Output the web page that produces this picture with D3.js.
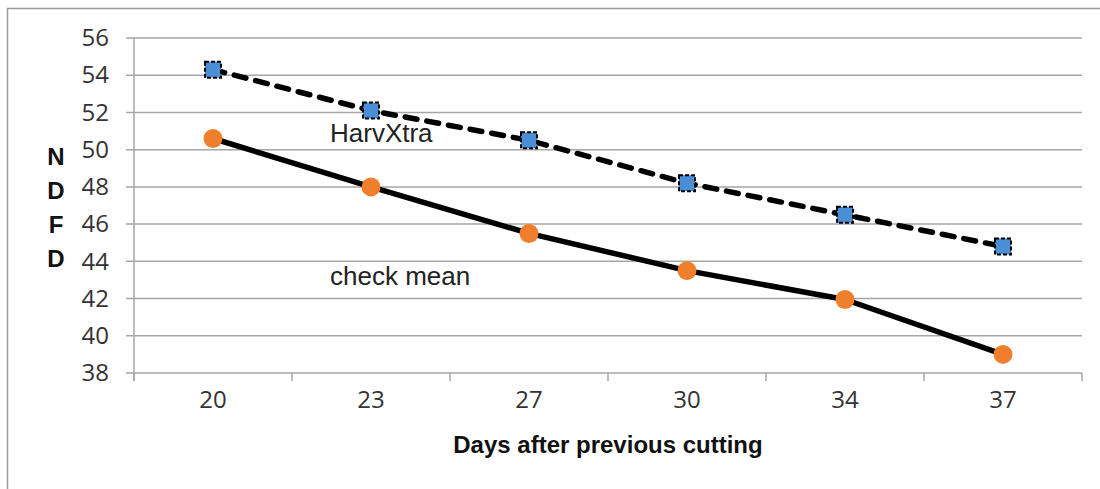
<!DOCTYPE html>
<html><head><meta charset="utf-8">
<script src="https://cdn.jsdelivr.net/npm/d3@7"></script>
<style>html,body{margin:0;padding:0;background:#fff;overflow:hidden}</style>
</head><body>
<svg id="c" width="1100" height="489"></svg>
<script>
const categories = ["20","23","27","30","34","37"];
const harvXtra = [54.3, 52.1, 50.5, 48.2, 46.5, 44.8];
const checkMean = [50.6, 48.0, 45.5, 43.5, 41.95, 39.0];
const yTicks = [38,40,42,44,46,48,50,52,54,56];
const yTitleLetters = ["N","D","F","D"];

const svg = d3.select("#c");
const m = {left:134, top:38, right:1082, bottom:373};

svg.append("rect").attr("x",7.5).attr("y",8.5).attr("width",1200).attr("height",600)
  .attr("fill","none").attr("stroke","#999").attr("stroke-width",1.5);

const x = d3.scaleBand().domain(categories).range([m.left,m.right]);
const y = d3.scaleLinear().domain([38,56]).range([m.bottom,m.top]);

svg.append("g").selectAll("line").data(yTicks).join("line")
  .attr("x1",m.left-8).attr("x2",m.right).attr("y1",d=>y(d)).attr("y2",d=>y(d))
  .attr("stroke","#a6a6a6").attr("stroke-width",1.5);

svg.append("line").attr("x1",m.left).attr("x2",m.left).attr("y1",m.top).attr("y2",m.bottom+8)
  .attr("stroke","#a6a6a6").attr("stroke-width",1.5);

const yAxis = d3.axisLeft(y).tickValues(yTicks).tickSize(0).tickPadding(25).tickFormat(d3.format("d"));
const ya = svg.append("g").attr("transform",`translate(${m.left},0)`).call(yAxis);
ya.select(".domain").remove();
ya.selectAll("text").attr("font-family","Open Sans").attr("font-size",24).attr("fill","#333");

const xAxis = d3.axisBottom(x).tickSize(0).tickPadding(18);
const xa = svg.append("g").attr("transform",`translate(0,${m.bottom})`).call(xAxis);
xa.select(".domain").remove();
xa.selectAll("text").attr("font-family","Open Sans").attr("font-size",24).attr("fill","#333");
const bounds = categories.map(c=>x(c)).concat([m.right]);
svg.append("g").selectAll("line").data(bounds).join("line")
  .attr("x1",d=>d).attr("x2",d=>d).attr("y1",m.bottom).attr("y2",m.bottom+8)
  .attr("stroke","#a6a6a6").attr("stroke-width",1.5);

const cx = c => x(c) + x.bandwidth()/2;

const line = d3.line().x((d,i)=>cx(categories[i])).y(d=>y(d));
svg.append("path").datum(harvXtra).attr("d",line).attr("fill","none")
  .attr("stroke","#000").attr("stroke-width",5.5).attr("stroke-dasharray","12,10").attr("stroke-linecap","round");
svg.append("path").datum(checkMean).attr("d",line).attr("fill","none")
  .attr("stroke","#000").attr("stroke-width",5.5).attr("stroke-linejoin","round");

svg.append("g").selectAll("rect").data(harvXtra).join("rect")
  .attr("x",(d,i)=>cx(categories[i])-8).attr("y",d=>y(d)-8).attr("width",16).attr("height",16)
  .attr("fill","#4a8fd6").attr("stroke","#000").attr("stroke-width",2).attr("stroke-dasharray","4,2");
svg.append("g").selectAll("circle").data(checkMean).join("circle")
  .attr("cx",(d,i)=>cx(categories[i])).attr("cy",d=>y(d)).attr("r",9.5)
  .attr("fill","#f07f2d");

svg.append("text").attr("x",330).attr("y",142).text("HarvXtra")
  .attr("font-family","Liberation Sans").attr("font-size",26).attr("fill","#222");
svg.append("text").attr("x",330).attr("y",285).text("check mean")
  .attr("font-family","Liberation Sans").attr("font-size",26).attr("fill","#222");

svg.append("text").attr("x",608).attr("y",453).attr("text-anchor","middle").text("Days after previous cutting")
  .attr("font-family","Liberation Sans").attr("font-weight","bold").attr("font-size",24).attr("fill","#111");
svg.append("g").selectAll("text").data(yTitleLetters).join("text")
  .attr("x",56).attr("y",(d,i)=>165+i*34).attr("text-anchor","middle").text(d=>d)
  .attr("font-family","Liberation Sans").attr("font-weight","bold").attr("font-size",24).attr("fill","#111");
</script>
</body></html>
